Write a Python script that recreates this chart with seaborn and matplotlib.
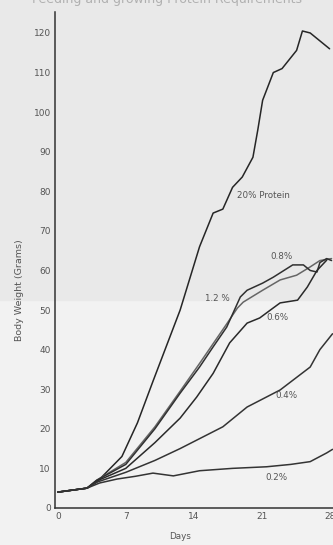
import matplotlib
matplotlib.use("Agg")
import matplotlib.pyplot as plt
import seaborn as sns
import pandas as pd

# ---- data ----
days_20 = [0, 3, 4, 5, 6.6, 8.2, 9.8, 11.2, 12.6, 13.6, 14.6, 16, 17, 18, 19, 20.1, 20.6, 21.1, 22.2, 23.1, 24.6, 25.2, 26, 28]
wt_20 = [4, 5, 6.5, 9, 13, 21.5, 32, 41, 50, 58, 66, 74.5, 75.5, 81, 83.6, 88.6, 95.5, 103, 110, 111, 115.6, 120.5, 120, 116]

days_12 = [0, 3, 4, 7, 10, 12.6, 14.6, 16, 17.4, 18.5, 19.1, 21.1, 22.9, 24.6, 26, 27, 28.2]
wt_12 = [4, 5, 7, 11.5, 20.5, 29.5, 36.5, 41.5, 46.5, 50.5, 52, 55, 57.6, 58.8, 60.9, 62.5, 63]

days_08 = [0, 3, 4, 7, 10, 12.6, 14.6, 16, 17.4, 18.8, 19.5, 21.1, 22.2, 24.2, 25.3, 26, 26.7, 27, 27.7, 28.2]
wt_08 = [4, 5, 7, 11, 20, 29, 35.6, 40.7, 45.7, 53.3, 55, 56.8, 58.3, 61.4, 61.4, 60, 59.6, 62, 63, 62.5]

days_06 = [0, 3, 4, 7, 10, 12.6, 14.3, 16, 17.7, 19.5, 20.8, 21.9, 22.9, 24.7, 25.7, 26.7, 27.7]
wt_06 = [4, 5, 6.8, 10, 16.5, 22.7, 28, 34, 41.7, 46.7, 48, 50, 51.8, 52.5, 55.8, 60, 62.6]

days_04 = [0, 3, 4, 7, 10, 12.6, 15, 17, 19.5, 22.9, 26, 27, 28.3]
wt_04 = [4, 5, 6.5, 9, 12, 15, 18, 20.5, 25.5, 29.8, 35.6, 40, 44]

days_02 = [0, 3, 4.3, 6.1, 8, 9.8, 11.9, 14.6, 18, 21.5, 24, 26, 27.7, 28.3]
wt_02 = [4, 5, 6.3, 7.3, 8, 8.8, 8.1, 9.4, 10, 10.4, 11, 11.7, 13.9, 14.8]

series_names = ["20%", "1.2%", "0.8%", "0.6%", "0.4%", "0.2%"]
label_texts = ["20% Protein", "1.2 %", "0.8%", "0.6%", "0.4%", "0.2%"]
label_x = [18.5, 15.2, 21.9, 21.5, 22.4, 21.4]
label_y = [79, 52.8, 63.6, 48, 28.5, 7.6]
y_ticks = list(range(0, 121, 10))
x_ticks = [0, 7, 14, 21, 28]

frames = []
for name, d, w in zip(series_names,
                      [days_20, days_12, days_08, days_06, days_04, days_02],
                      [wt_20, wt_12, wt_08, wt_06, wt_04, wt_02]):
    frames.append(pd.DataFrame({"Days": d, "Weight": w, "Diet": name}))
df = pd.concat(frames, ignore_index=True)

sns.set_style("white")
plt.rcParams["font.family"] = ["DejaVu Sans"]

fig = plt.figure(figsize=(3.33, 5.45), dpi=100, facecolor="#f2f2f2")
ax = fig.add_axes([0.165, 0.068, 0.835, 0.910])
ax.set_facecolor("none")

palette = {"20%": "#262626", "1.2%": "#666666", "0.8%": "#303030",
           "0.6%": "#2a2a2a", "0.4%": "#343434", "0.2%": "#343434"}
sns.lineplot(data=df, x="Days", y="Weight", hue="Diet", palette=palette,
             sort=False, estimator=None, linewidth=1.1, legend=False, ax=ax)

# scan shading band in upper part
fig.patches.append(plt.Rectangle((0, 0.45), 1, 0.55, transform=fig.transFigure,
                                 color="#e9e9e9", zorder=-10))

ax.set_xlim(-0.3, 28.35)
ax.set_ylim(0, 125.3)
ax.set_yticks(y_ticks)
ax.set_xticks(x_ticks)
ax.set_yticklabels([str(v) for v in y_ticks])
ax.set_xticklabels([str(v) for v in x_ticks])
ax.tick_params(axis="both", direction="in", length=3, width=0.8, colors="#444444",
               labelsize=6.5, labelcolor="#555555", pad=3)
for s in ["top", "right"]:
    ax.spines[s].set_visible(False)
for s in ["left", "bottom"]:
    ax.spines[s].set_color("#333333")
    ax.spines[s].set_linewidth(1.1)
ax.set_xlabel("")
ax.set_ylabel("")

for t, x, y in zip(label_texts, label_x, label_y):
    ax.text(x, y, t, fontsize=6.3, color="#555555", va="center", ha="left")

fig.text(0.06, 0.468, "Body Weight (Grams)", rotation=90, fontsize=6.8,
         color="#555555", ha="center", va="center")
fig.text(0.54, 0.016, "Days", fontsize=6.3, color="#555555", ha="center", va="center")
fig.text(0.5, 1.0, "Feeding and growing Protein Requirements", fontsize=9,
         color="#b0b0b0", ha="center", va="center")

fig.savefig("out.png", dpi=100, facecolor=fig.get_facecolor())
